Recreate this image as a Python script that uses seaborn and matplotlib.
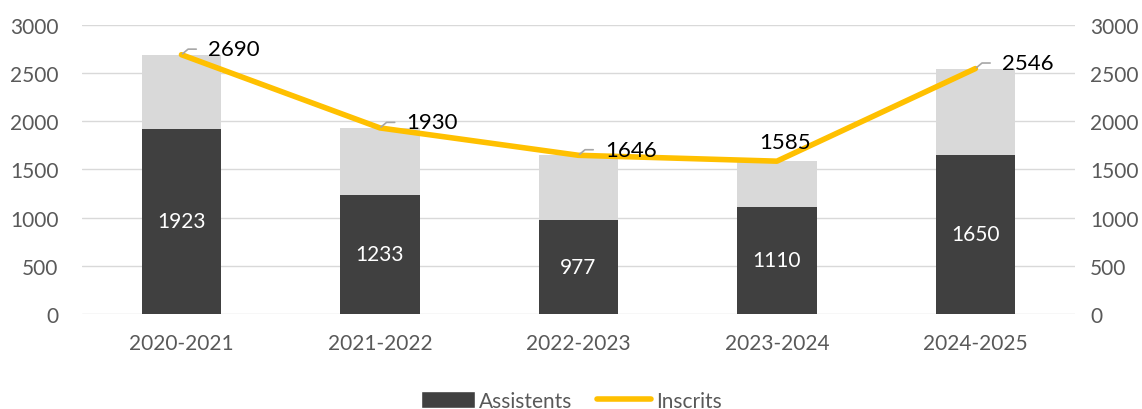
import numpy as np
import pandas as pd
import matplotlib.pyplot as plt
import seaborn as sns
from matplotlib.patches import Patch
from matplotlib.lines import Line2D

# data
years = ["2020-2021", "2021-2022", "2022-2023", "2023-2024", "2024-2025"]
assistents = [1923, 1233, 977, 1110, 1650]
inscrits = [2690, 1930, 1646, 1585, 2546]

df = pd.DataFrame({"curs": years, "assistents": assistents, "inscrits": inscrits})

sns.set_theme(style="white")
plt.rcParams["font.family"] = ["Lato", "DejaVu Sans"]

dark = "#404040"
light = "#d9d9d9"
yellow = "#ffc000"
grey_txt = "#595959"

fig = plt.figure(figsize=(11.42, 4.1), dpi=100)
ax = fig.add_axes([0.072, 0.232, 0.869, 0.705])

# total bar (light) then assistents on top of it (dark)
sns.barplot(data=df, x="curs", y="inscrits", color=light, width=0.4,
            saturation=1, ax=ax, zorder=2, linewidth=0)
sns.barplot(data=df, x="curs", y="assistents", color=dark, width=0.4,
            saturation=1, ax=ax, zorder=3, linewidth=0)
ax.bar_label(ax.containers[1], label_type="center", color="white", fontsize=15)

xpos = np.arange(len(years))
ax.plot(xpos, df["inscrits"], color=yellow, lw=4, zorder=4, solid_capstyle="round")
for x, v in zip(xpos, inscrits):
    if v == 1585:
        # this one sits just above the point, no leader line
        ax.annotate(str(v), xy=(x, v), xytext=(6, 14), textcoords="offset points",
                    ha="center", va="center", fontsize=16, color="black", zorder=5)
        continue
    ax.annotate(str(v), xy=(x, v), xytext=(19, 4), textcoords="offset points",
                ha="left", va="center", fontsize=16, color="black", zorder=5,
                arrowprops=dict(arrowstyle="-", color="#a6a6a6", lw=1.2,
                                shrinkA=6, shrinkB=1, relpos=(0, 0.5),
                                connectionstyle="angle,angleA=0,angleB=40,rad=0"))

ax.set_xlim(-0.5, len(years) - 0.5)
ax.set_ylim(0, 3000)
ax.set_yticks(range(0, 3001, 500))
ax.yaxis.grid(True, color=light, lw=1, zorder=0)
ax.set_axisbelow(True)
ax.set_xlabel("")
ax.set_ylabel("")
ax.tick_params(axis="y", length=0, pad=17, labelsize=15, labelcolor=grey_txt)
ax.tick_params(axis="x", length=0, pad=14, labelsize=15, labelcolor=grey_txt)
for s in ax.spines.values():
    s.set_visible(False)

ax2 = ax.twinx()
ax2.set_ylim(0, 3000)
ax2.set_yticks(range(0, 3001, 500))
ax2.tick_params(axis="y", length=0, pad=11, labelsize=15, labelcolor=grey_txt)
for s in ax2.spines.values():
    s.set_visible(False)

handles = [Patch(facecolor=dark, label="Assistents"),
           Line2D([0], [0], color=yellow, lw=4, solid_capstyle="round", label="Inscrits")]
fig.legend(handles=handles, loc="lower center", bbox_to_anchor=(0.5, -0.05), ncol=2,
           frameon=False, fontsize=15, labelcolor=grey_txt, handlelength=2.6,
           handleheight=0.9, handletextpad=0.2, columnspacing=1.2)

fig.savefig("out.png", dpi=100)
